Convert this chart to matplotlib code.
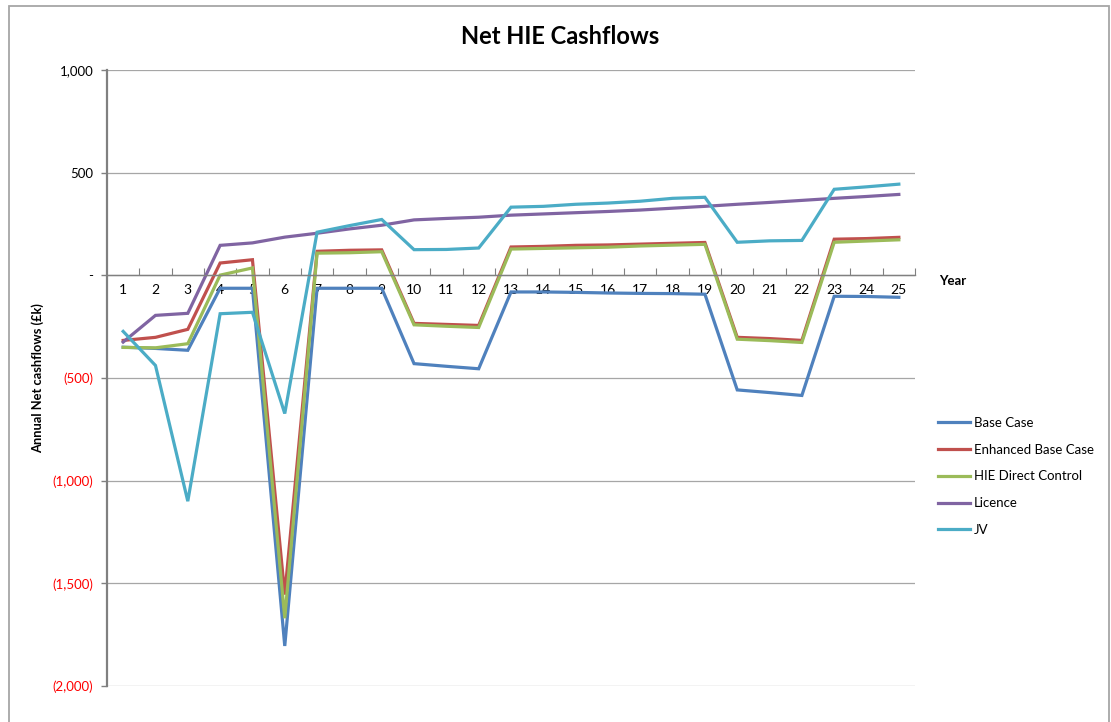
import matplotlib.pyplot as plt
from matplotlib.patches import Rectangle
from matplotlib.ticker import FixedLocator, FuncFormatter

plt.rcParams['font.family'] = ['Lato', 'DejaVu Sans']

years = list(range(1, 26))
base_case = [-350, -356, -365, -63, -63, -1805, -63, -63, -63, -430, -443, -455, -81,
             -81, -83, -86, -88, -89, -92, -558, -571, -585, -102, -103, -107]
enhanced = [-317, -302, -263, 60, 76, -1555, 117, 122, 124, -234, -239, -244, 138,
            141, 146, 148, 152, 156, 160, -302, -308, -317, 176, 179, 185]
hie_direct = [-351, -353, -333, 1, 36, -1670, 108, 110, 115, -241, -248, -254, 128,
              131, 134, 137, 143, 147, 151, -311, -318, -327, 161, 167, 173]
licence = [-325, -195, -185, 146, 158, 186, 205, 226, 244, 270, 277, 283, 293,
           299, 305, 311, 318, 327, 336, 346, 355, 365, 375, 384, 394]
jv = [-273, -439, -1100, -187, -180, -673, 210, 242, 272, 125, 126, 133, 332,
      336, 346, 352, 361, 375, 380, 161, 168, 170, 419, 431, 444]

series = [
    ("Base Case", base_case, "#4F81BD"),
    ("Enhanced Base Case", enhanced, "#C0504D"),
    ("HIE Direct Control", hie_direct, "#9BBB59"),
    ("Licence", licence, "#8064A2"),
    ("JV", jv, "#4BACC6"),
]

W, H = 1111, 722
fig = plt.figure(figsize=(W / 100, H / 100), dpi=100)

# chart border
fig.patches.append(Rectangle((9 / W, -0.05), 1100 / W, 1.05 - 6 / H,
                             transform=fig.transFigure, fill=False,
                             edgecolor="#A6A6A6", linewidth=1.3))

ax = fig.add_axes([107 / W, (H - 686) / H, (915 - 107) / W, (686 - 70) / H])

for name, vals, col in series:
    ax.plot(years, vals, color=col, linewidth=2.3, label=name, solid_joinstyle="miter")

ax.set_xlim(0.5, 25.5)
ax.set_ylim(-2000, 1000)

ax.yaxis.set_major_locator(FixedLocator([-2000, -1500, -1000, -500, 0, 500, 1000]))


def money(v, pos):
    if v == 0:
        return "-"
    if v < 0:
        return "({:,.0f})".format(-v)
    return "{:,.0f}".format(v)


ax.yaxis.set_major_formatter(FuncFormatter(money))
ax.tick_params(axis="y", length=4, width=1, color="#808080", pad=6, labelsize=9.5)
for lbl in ax.get_yticklabels():
    if lbl.get_text().startswith("("):
        lbl.set_color("#FF0000")

ax.grid(axis="y", color="#A6A6A6", linewidth=0.9)
ax.set_axisbelow(True)

# category axis sits on zero; boundary ticks point up, labels centred on years
ax.spines["bottom"].set_position(("data", 0))
ax.spines["bottom"].set_color("#808080")
ax.spines["bottom"].set_linewidth(1.0)
ax.spines["left"].set_color("#808080")
ax.spines["left"].set_linewidth(1.6)
ax.spines["top"].set_visible(False)
ax.spines["right"].set_visible(False)

ax.set_xticks([y + 0.5 for y in years])
ax.set_xticklabels([])
ax.set_xticks(years, minor=True)
ax.set_xticklabels([str(y) for y in years], minor=True)
ax.tick_params(axis="x", which="major", direction="in", length=5, color="#808080")
ax.tick_params(axis="x", which="minor", length=0, pad=6, labelsize=10)

fig.text(560 / W, 1 - 36 / H, "Net HIE Cashflows", ha="center", va="center",
         fontsize=17, fontweight="bold")
fig.text(939 / W, 1 - 281 / H, "Year", ha="left", va="center",
         fontsize=9.5, fontweight="bold")
fig.text(38 / W, 1 - 378 / H, "Annual Net cashflows (£k)", ha="center", va="center",
         rotation=90, fontsize=9.3, fontweight="bold")

fig.legend(loc="upper left", bbox_to_anchor=(926 / W, 1 - 405 / H), frameon=False,
           fontsize=9.5, handlelength=2.4, handletextpad=0.3, labelspacing=1.12)

fig.savefig("out.png", dpi=100)
